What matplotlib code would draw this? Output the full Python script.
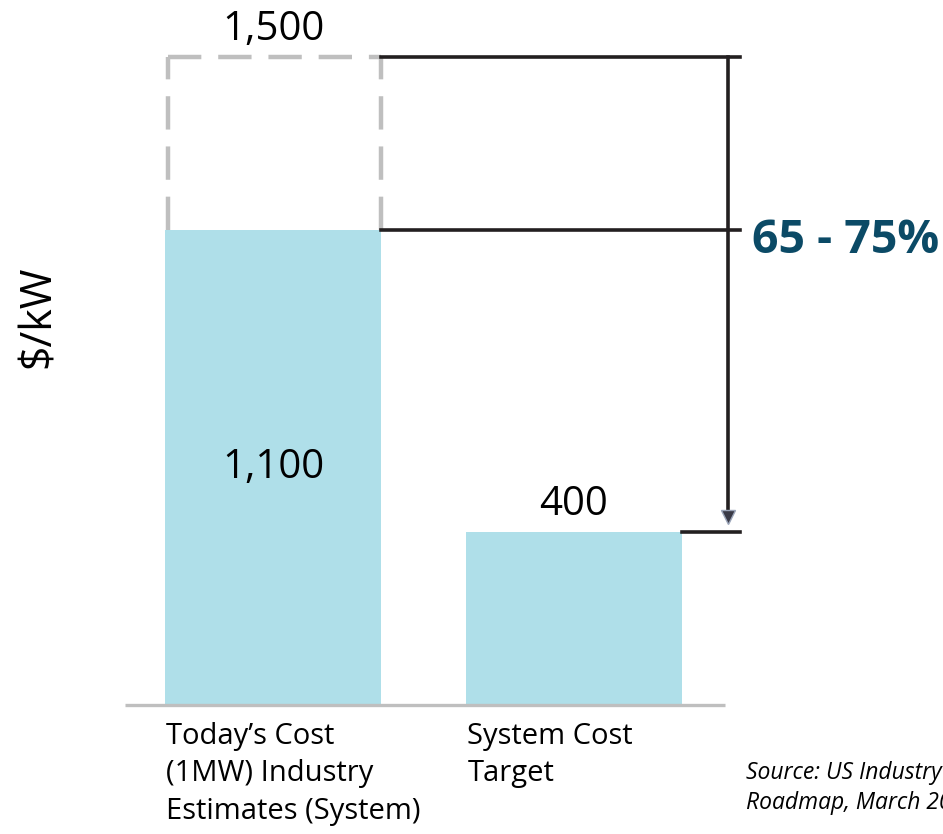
import matplotlib
matplotlib.use("Agg")
import matplotlib.pyplot as plt

categories = ["Today\u2019s Cost\n(1MW) Industry\nEstimates (System)", "System Cost\nTarget"]
values = [1100, 400]
value_labels = ["1,100", "400"]
upper_estimate = 1500
upper_label = "1,500"
reduction_label = "65 - 75%"
y_label = "\\$/kW"
source_text = "Source: US Industry\nRoadmap, March 2019"

plt.rcParams['font.family'] = ['Open Sans', 'DejaVu Sans']

fig = plt.figure(figsize=(9.43, 8.34), dpi=100)
ax = fig.add_axes([0, 0, 1, 1])
px_per_unit = 0.4318
ax.set_ylim(-(834 - 705) / px_per_unit, 705 / px_per_unit)
ax.set_xlim(-273 / 301, (943 - 273) / 301)
ax.axis('off')

x = [0, 1]
width = 0.718
bar_color = '#afdfe9'
ax.bar(x, values, width=width, color=bar_color, zorder=2)

# baseline
ax.plot([-0.492, 1.502], [0, 0], color='#bfbfbf', lw=2.4, zorder=3, solid_capstyle='butt')

# dashed box for upper estimate
half = width / 2
dash = dict(color='#bfbfbf', lw=3.2, ls=(0, (7.5, 3.8)), zorder=1)
ax.plot([x[0] - half + 0.01, x[0] - half + 0.01], [values[0], upper_estimate], **dash)
ax.plot([x[0] + half, x[0] + half], [values[0], upper_estimate], **dash)
ax.plot([x[0] - half + 0.01, x[0] + half], [upper_estimate, upper_estimate], **dash)

# black bracket lines
dark = '#231f20'
xv = 1.512
xr = 1.551
ax.plot([x[0] + half, xr], [upper_estimate, upper_estimate], color=dark, lw=2.6, zorder=4)
ax.plot([x[0] + half, xr], [values[0], values[0]], color=dark, lw=2.6, zorder=4)
ax.plot([x[1] + half, xr], [values[1], values[1]], color=dark, lw=2.6, zorder=4)
ax.plot([xv, xv], [upper_estimate, 445], color=dark, lw=2.6, zorder=4)
ax.plot([xv], [436], marker='v', markersize=10, color='#3a3a46', markeredgecolor='#9aa4b8', zorder=5)

# labels
ax.text(x[0], upper_estimate + 18, upper_label, ha='center', va='bottom', fontsize=29, color='black')
ax.text(x[0], 550, value_labels[0], ha='center', va='center', fontsize=29, color='black')
ax.text(x[1], values[1] + 18, value_labels[1], ha='center', va='bottom', fontsize=29, color='black')
ax.text(1.59, 1100 - 25, reduction_label, ha='left', va='center', fontsize=33.5, fontweight='bold', color='#0b4a66')

ax.text(-0.78, 900, y_label, rotation=90, ha='center', va='center', fontsize=31, color='black')

for xi, cat in zip(x, categories):
    ax.text(xi - half + 0.005, -40, cat, ha='left', va='top', fontsize=21, linespacing=1.37, color='black')

ax.text(1.57, -130, source_text, ha='left', va='top', fontsize=16.5, style='italic', linespacing=1.3, color='black')

fig.savefig('out.png', dpi=100)
